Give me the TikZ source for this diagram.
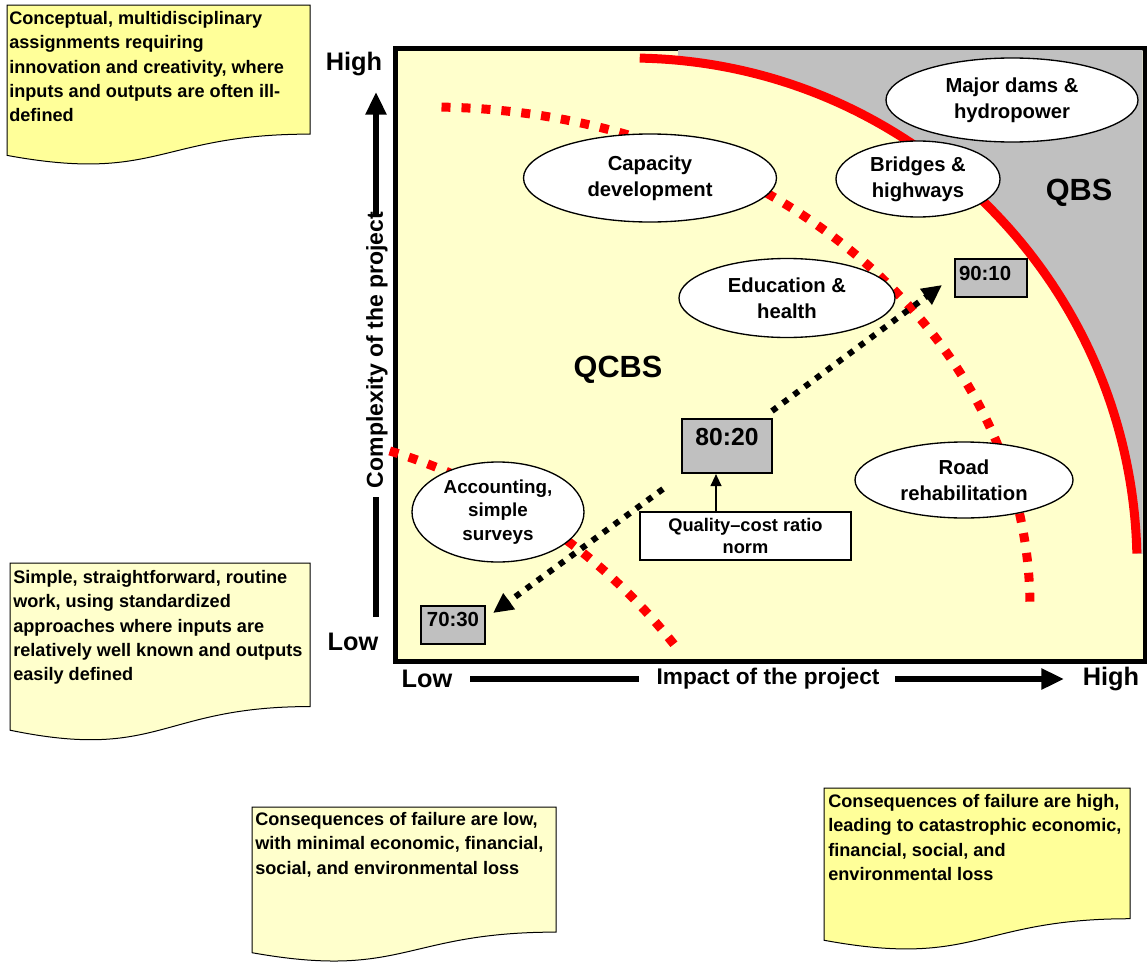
\documentclass[tikz,border=0pt]{standalone}
\usepackage{fontspec}
\setmainfont{Liberation Sans}
\usetikzlibrary{arrows.meta,shapes.geometric}
\definecolor{bgyellow}{HTML}{FFFFCC}
\definecolor{noteyellow}{HTML}{FFFF99}
\definecolor{paleyellow}{HTML}{FFFFCC}
\definecolor{qgrey}{HTML}{C0C0C0}
\definecolor{qred}{HTML}{FF0000}
\newcommand{\docshape}[5]{%
  \filldraw[fill=#5, draw=black, line width=0.75pt] (#1,#2) -- ({#1+#3},#2) -- ({#1+#3},{#2+0.802*#4})
    .. controls ({#1+0.5*#3},{#2+0.802*#4}) and ({#1+0.5*#3},{#2+1.1075*#4}) .. (#1,{#2+0.934*#4}) -- cycle;}
\begin{document}
\begin{tikzpicture}[x=0.75pt,y=-0.75pt,
  notetext/.style={anchor=north west, inner sep=0pt, align=left, font=\bfseries\fontsize{13.6pt}{18.2pt}\selectfont},
  ellip/.style={ellipse, draw=black, line width=1pt, fill=white, inner sep=0pt, align=center, font=\bfseries\fontsize{15.2pt}{19.5pt}\selectfont},
  ratiobox/.style={rectangle, draw=black, line width=1.5pt, fill=qgrey, inner sep=0pt},
  redsolid/.style={qred, line width=6.75pt},
  reddots/.style={qred, line width=6.75pt, dash pattern=on 6.75pt off 8.25pt},
  blackdots/.style={black, line width=4.5pt, dash pattern=on 4.5pt off 5.7pt, -{Triangle[length=15pt,width=14pt]}},
  axisline/.style={line width=4.5pt},
  axisarrow/.style={line width=4.5pt, -{Triangle[length=17pt,width=15pt]}},
  axlabel/.style={inner sep=0pt, font=\bfseries\fontsize{19pt}{22pt}\selectfont},
  biglabel/.style={inner sep=0pt, font=\bfseries\fontsize{23pt}{26pt}\selectfont}
]
\useasboundingbox (0,0) rectangle (1147,967);

% notes
\docshape{7}{5}{303}{161}{noteyellow}
\docshape{10}{563}{300}{179}{paleyellow}
\docshape{252}{807}{304}{156}{paleyellow}
\docshape{824}{788}{306}{163}{noteyellow}
\node[notetext] (n1) at (9,11.3) {Conceptual, multidisciplinary\\assignments requiring\\innovation and creativity, where\\inputs and outputs are often ill-\\defined};
\node[notetext] (n2) at (13,570.3) {Simple, straightforward, routine\\work, using standardized\\approaches where inputs are\\relatively well known and outputs\\easily defined};
\node[notetext] (n3) at (255,812.3) {Consequences of failure are low,\\with minimal economic, financial,\\social, and environmental loss};
\node[notetext] (n4) at (828,794.3) {Consequences of failure are high,\\leading to catastrophic economic,\\financial, social, and\\environmental loss};

% frame
\draw[line width=3.75pt, fill=bgyellow] (395,48) rectangle (1145,661);
\begin{scope}
  \clip (678,50.5) rectangle (1142.5,553);
  \fill[qgrey, even odd rule] (600,0) rectangle (1200,620) (630,565) circle[radius=380.25pt];
\end{scope}

% curves
\draw[redsolid] (630,565) ++(88.9:380.25pt) arc[start angle=88.9, end angle=1.3, radius=380.25pt];
\draw[reddots] (441.5,107.1) arc[start angle=88.9, end angle=-0.4, x radius=450pt, y radius=375pt];
\draw[reddots] (222,1003) ++(73.1:432.75pt) arc[start angle=73.1, end angle=38.0, radius=432.75pt];

% black dotted arrows
\coordinate (a1) at (663,489);
\coordinate (t1) at (493,613);
\coordinate (a2) at (772,411);
\coordinate (t2) at (942,285);
\draw[blackdots] (a1) -- (t1);
\draw[blackdots] (a2) -- (t2);

% ellipses
\node[ellip, minimum width=189.75pt, minimum height=66pt] (cap) at (650,178) {Capacity\\development};
\node[ellip, minimum width=189pt, minimum height=63pt] (dams) at (1012,100) {Major dams \&\\hydropower};
\node[ellip, minimum width=123pt, minimum height=57pt] (bridges) at (918,179) {Bridges \&\\highways};
\node[ellip, minimum width=162pt, minimum height=59.25pt] (edu) at (787,298) {Education \&\\health};
\node[ellip, minimum width=129pt, minimum height=75pt, font=\bfseries\fontsize{14.1pt}{17.6pt}\selectfont] (acc) at (498,512) {Accounting,\\simple\\surveys};
\node[ellip, minimum width=163.5pt, minimum height=57pt] (road) at (964,480) {Road\\rehabilitation};

% region labels
\node[biglabel] (qcbs) at (618,370) {QCBS};
\node[biglabel] (qbs) at (1079,193) {QBS};

% ratio boxes
\node[ratiobox, minimum width=67.5pt, text height=20.1pt, text depth=20.4pt, font=\bfseries\fontsize{18.5pt}{20pt}\selectfont] (r8020) at (727,446) {80:20};
\node[ratiobox, minimum width=48pt, text height=15.5pt, text depth=13pt, font=\bfseries\fontsize{15.3pt}{17pt}\selectfont] (r7030) at (453,625) {70:30};
\node[ratiobox, inner xsep=3pt, text width=48pt, align=left, text height=15.75pt, text depth=12.75pt, font=\bfseries\fontsize{15.3pt}{17pt}\selectfont] (r9010) at (991,278) {90:10};
\node[rectangle, draw=black, line width=1.5pt, fill=white, inner sep=0pt, minimum width=158.25pt, minimum height=36pt, align=center, font=\bfseries\fontsize{13.7pt}{17pt}\selectfont] (qcr) at (745.5,536) {Quality--cost ratio\\norm};
\coordinate (ax) at (716,500);
\draw[line width=1.5pt, -{Triangle[length=9pt,width=8pt]}] (ax |- qcr.north) -- (ax |- r8020.south);

% axes
\node[axlabel] (hiY) at (354,64) {High};
\node[axlabel] (loY) at (353,642) {Low};
\node[axlabel] (loX) at (427,679) {Low};
\node[axlabel] (hiX) at (1111,679) {High};
\node[inner sep=0pt, font=\bfseries\fontsize{17pt}{20pt}\selectfont] (impact) at (768,679) {Impact of the project};
\node[inner sep=0pt, rotate=90, font=\bfseries\fontsize{17.25pt}{20pt}\selectfont] (cplx) at (377,350) {Complexity of the project};
\coordinate (vlow) at (376,617);
\coordinate (vmid1) at (376,497);
\coordinate (vmid2) at (376,215);
\coordinate (vtip) at (376,92);
\draw[axisline] (vlow) -- (vmid1);
\draw[axisarrow] (vmid2) -- (vtip);
\coordinate (hl1) at (470,679);
\coordinate (hl2) at (639,679);
\coordinate (hr1) at (895,679);
\coordinate (hr2) at (1064,679);
\draw[axisline] (hl1) -- (hl2);
\draw[axisarrow] (hr1) -- (hr2);
\end{tikzpicture}
\end{document}
